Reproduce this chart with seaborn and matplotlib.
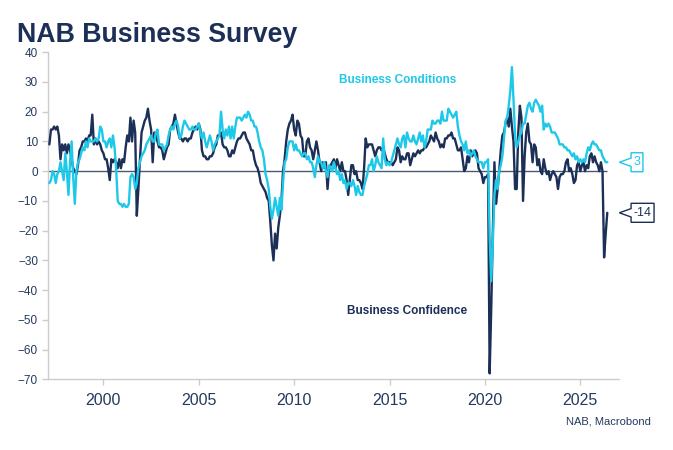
import numpy as np
import pandas as pd
import seaborn as sns
import matplotlib
matplotlib.use("Agg")
import matplotlib.pyplot as plt
from matplotlib.path import Path
from matplotlib import transforms

# monthly survey readings, first value is Feb 1997 (plotted at month end)
start_year, start_month = 1997, 2

confidence = [
    9, 14, 14, 15, 14, 15, 12, 4, 9, 7, 9,                # 1997
    6, 9, 7, 4, 1, 0, -1, 2, 7, 8, 10, 10,                # 1998
    11, 10, 12, 12, 19, 9, 11, 9, 10, 9, 7, 6,            # 1999
    4, 4, 1, -3, 4, 3, 4, 3, 1, 4, 1, 4,                  # 2000
    3, 8, 12, 10, 18, 10, 17, 13, -15, -6, 4, 13,         # 2001
    15, 17, 18, 21, 17, 14, 3, 13, 12, 10, 8, 8,          # 2002
    7, 4, 6, 8, 9, 14, 15, 16, 19, 16, 13, 11,            # 2003
    11, 10, 11, 11, 10, 11, 11, 13, 14, 15, 14, 16,       # 2004
    14, 7, 5, 5, 4, 4, 5, 5, 6, 8, 9, 12,                 # 2005
    12, 13, 9, 8, 8, 7, 5, 5, 7, 6, 8, 10,                # 2006
    11, 11, 12, 13, 13, 11, 10, 9, 7, 7, 4, 2,            # 2007
    1, -1, -4, -5, -6, -7, -9, -10, -17, -25, -30, -21,   # 2008
    -26, -19, -15, -10, 0, 4, 10, 14, 16, 17, 19, 14,     # 2009
    12, 17, 16, 12, 11, 5, 5, 10, 11, 8, 7, 4,            # 2010
    7, 10, 7, 3, 0, 3, 1, 3, -6, 1, 2, 3,                 # 2011
    4, 1, 4, 2, 0, 3, 0, 0, -3, -8, -3, 2,                # 2012
    2, -1, 0, -3, -3, -4, -6, 1, 11, 8, 9, 9,             # 2013
    9, 7, 5, 7, 8, 8, 7, 8, 6, 4, 3, 3,                   # 2014
    3, 2, 3, 4, 8, 7, 3, 5, 4, 4, 6, 6,                   # 2015
    2, 4, 6, 5, 6, 7, 6, 7, 7, 8, 8, 9,                   # 2016
    10, 12, 11, 10, 13, 11, 10, 8, 9, 8, 11, 11,          # 2017
    12, 12, 13, 11, 11, 9, 7, 7, 8, 4, 0, 1,              # 2018
    5, 3, 7, 5, 6, 7, 6, 1, 0, -1, -4, -2,                # 2019
    -2, -1, -68, -46, -20, 3, -11, -6, 0, 7, 12, 13,      # 2020
    16, 18, 15, 21, 15, 10, -6, -6, 13, 22, 18, -10,      # 2021
    5, 13, 16, 10, 9, 3, 9, 8, 2, 4, 0, -1,               # 2022
    4, 1, -1, 0, -3, -1, 0, -1, -2, -6, -2, -1,           # 2023
    -1, 0, 3, 4, 0, 1, -1, -4, -3, 2, 3, 0,               # 2024
    2, 3, 0, 2, 1, 5, 6, 3, 5, 3, 2, 0,                   # 2025
    3, 0, -29, -21, -14,                                  # 2026
]

conditions = [
    -4, -3, 0, -1, -4, -1, 0, 3, 0, -3, 6,                # 1997
    0, -8, 3, 10, -2, -11, 0, 3, 4, 6, 8, 7,              # 1998
    10, 8, 11, 10, 10, 10, 11, 10, 11, 15, 14, 10,        # 1999
    10, 8, 10, 11, 8, 12, 8, 1, -10, -11, -11, -12,       # 2000
    -11, -12, -12, -11, -2, -1, -2, -6, -4, 1, 3, 5,      # 2001
    6, 7, 9, 10, 11, 12, 10, 10, 13, 14, 9, 9,            # 2002
    9, 7, 8, 9, 12, 14, 15, 14, 16, 17, 15, 11,           # 2003
    12, 15, 17, 16, 15, 14, 14, 15, 14, 14, 15, 16,       # 2004
    13, 11, 13, 10, 8, 10, 12, 10, 7, 9, 10, 11,          # 2005
    12, 20, 14, 11, 14, 12, 15, 11, 15, 11, 15, 18,       # 2006
    18, 18, 17, 18, 19, 18, 20, 19, 17, 17, 15, 15,       # 2007
    13, 10, 8, 7, 4, -1, -3, -6, -12, -16, -13, -9,       # 2008
    -12, -15, -9, -13, -4, 3, 4, 8, 10, 10, 10, 7,        # 2009
    9, 7, 7, 6, 5, 6, 6, 4, 5, 3, 3, 1,                   # 2010
    -2, 2, 5, 3, 3, 1, 3, 0, -2, 2, 1, 0,                 # 2011
    3, 1, -1, 0, -3, -1, -4, -3, -6, -4, -4, -5,          # 2012
    -3, -5, -8, -5, -7, -8, -8, -5, -3, -1, 2, 2,         # 2013
    4, 0, 2, 5, 3, 2, 1, 11, 4, 2, 3, 2,                  # 2014
    3, 5, 7, 9, 11, 9, 8, 11, 12, 8, 13, 11,              # 2015
    10, 10, 12, 10, 9, 11, 13, 10, 12, 8, 10, 14,         # 2016
    14, 14, 17, 16, 16, 17, 17, 16, 20, 17, 17, 17,       # 2017
    21, 20, 19, 18, 19, 20, 15, 12, 10, 9, 7, 10,         # 2018
    6, 7, 5, 6, 7, 5, 4, 3, 3, 3, 1, 3,                   # 2019
    3, 4, -22, -37, -24, -8, -3, -6, 0, 2, 5, 11,         # 2020
    17, 18, 22, 27, 35, 24, 12, 8, 10, 12, 13, 16,        # 2021
    16, 19, 22, 23, 21, 20, 23, 24, 23, 22, 20, 22,       # 2022
    14, 16, 15, 16, 15, 13, 13, 13, 12, 11, 9, 9,         # 2023
    9, 8, 8, 7, 7, 6, 5, 6, 4, 5, 3, 4,                   # 2024
    3, 4, 3, 6, 8, 7, 9, 10, 9, 9, 8, 7,                  # 2025
    7, 5, 4, 3, 3,                                        # 2026
]

year_ticks = [2000, 2005, 2010, 2015, 2020, 2025]
y_ticks = list(range(-70, 41, 10))

navy = "#1b2f57"
cyan = "#1ec8e8"
text_col = "#243a5e"

months = np.arange(len(confidence))
when = start_year + (start_month + months) / 12.0

df = pd.DataFrame({"when": when,
                   "Business Confidence": confidence,
                   "Business Conditions": conditions})
long_df = df.melt(id_vars="when", var_name="series", value_name="value")

sns.set_theme(style="ticks")
plt.rcParams["font.family"] = ["Liberation Sans", "DejaVu Sans"]

fig = plt.figure(figsize=(6.73, 4.5), dpi=100)
ax = fig.add_axes([0.0709, 0.157, 0.8494, 0.727])

ax.hlines(0, 1997.08, when[-1], color="#4a5870", lw=1.0, zorder=1)

sns.lineplot(data=long_df, x="when", y="value", hue="series",
             hue_order=["Business Confidence", "Business Conditions"],
             palette={"Business Confidence": navy, "Business Conditions": cyan},
             lw=1.7, legend=False, ax=ax, zorder=3)

ax.set_xlim(1997.08, 2027.05)
ax.set_ylim(-70, 40)
ax.set_xticks(year_ticks)
ax.set_yticks(y_ticks)
ax.set_xlabel("")
ax.set_ylabel("")

for side in ["top", "right"]:
    ax.spines[side].set_visible(False)
for side in ["left", "bottom"]:
    ax.spines[side].set_color("#cccccc")
    ax.spines[side].set_linewidth(1.0)
ax.tick_params(axis="y", colors="#cccccc", labelcolor=text_col, labelsize=8.5,
               length=4, width=1, pad=3)
ax.tick_params(axis="x", colors="#cccccc", labelcolor=text_col, labelsize=11.5,
               length=4, width=1, pad=6)


def tag_box(x0, y0, width, height, mutation_size):
    # rectangle with a "<" pointer on its left side
    px, py = 2.5, 3.5
    tip, notch = 11.7, 4.2
    x0, y0 = x0 - px, y0 - py
    width, height = width + 2 * px, height + 2 * py
    ym = y0 + height / 2
    verts = [(x0, y0 + height), (x0 + width, y0 + height), (x0 + width, y0),
             (x0, y0), (x0, ym - notch), (x0 - tip, ym), (x0, ym + notch),
             (x0, y0 + height)]
    return Path(verts + [verts[0]], closed=True)


edge = transforms.blended_transform_factory(ax.transAxes, ax.transData)
for vals, col in [(conditions, cyan), (confidence, navy)]:
    ax.annotate(f"{vals[-1]:.0f}", xy=(1.0, vals[-1]), xycoords=edge,
                xytext=(14.2, 0), textcoords="offset pixels",
                ha="left", va="center", fontsize=9, color=col,
                bbox=dict(boxstyle=tag_box, fc="white", ec=col, lw=1.0),
                annotation_clip=False)

ax.text(2015.4, 30.6, "Business Conditions", color=cyan, ha="center",
        va="center", fontsize=8.5, fontweight="bold")
ax.text(2015.93, -47, "Business Confidence", color=navy, ha="center",
        va="center", fontsize=8.5, fontweight="bold")

fig.text(0.025, 0.907, "NAB Business Survey", fontsize=19.3,
         fontweight="bold", color=navy, va="baseline", ha="left")
fig.text(0.967, 0.063, "NAB, Macrobond", fontsize=8, color=text_col,
         ha="right", va="center")

fig.savefig("out.png", dpi=100)
